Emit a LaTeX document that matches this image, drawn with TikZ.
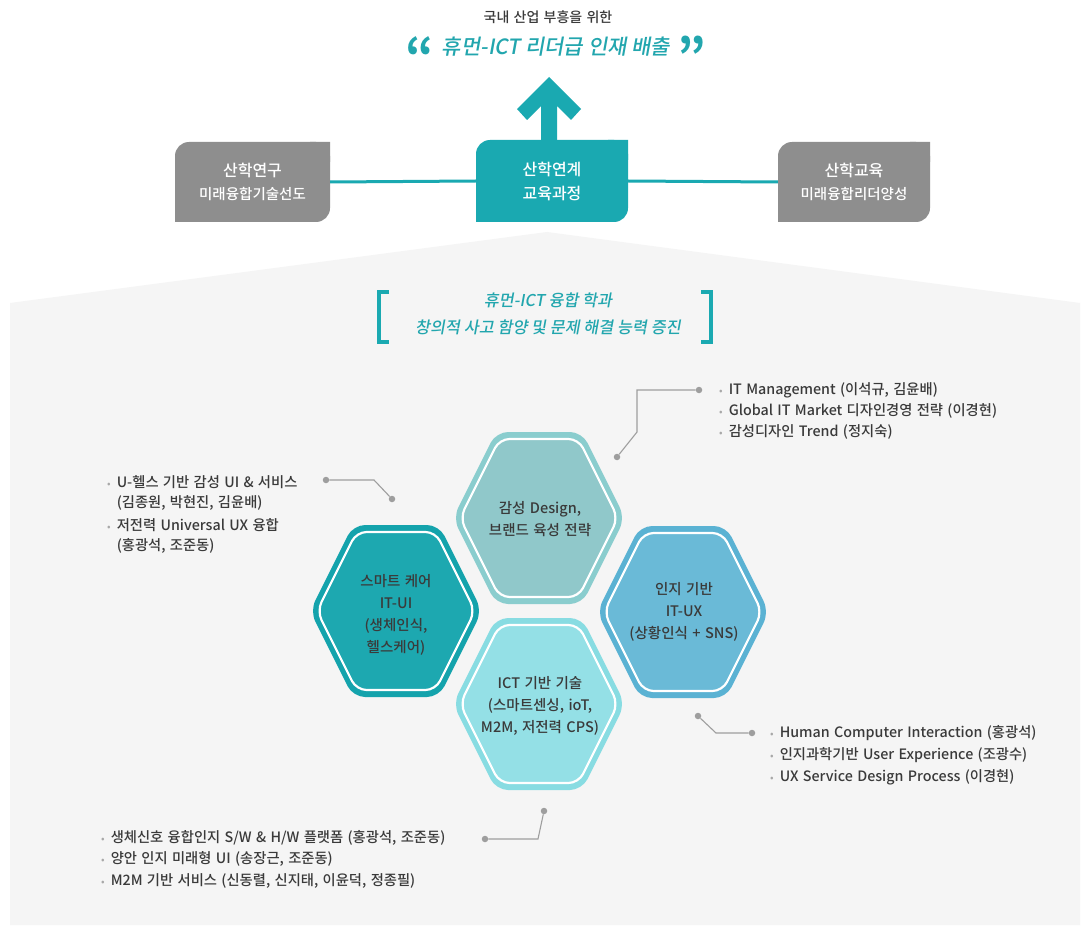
\documentclass[tikz,border=0pt]{standalone}
\usepackage{fontspec}
\setmainfont{Noto Sans CJK KR Medium}[WordSpace=1.35]
\newfontfamily\krbold{Noto Sans CJK KR Bold}
\newfontfamily\krit[FakeSlant=0.18]{Noto Sans CJK KR Medium}
\definecolor{teal1}{HTML}{1AA9B1}
\definecolor{tealtxt}{HTML}{22A6AE}
\definecolor{boxgray}{HTML}{8E8E8E}
\definecolor{bggray}{HTML}{F5F5F5}
\definecolor{txtgray}{HTML}{3A3A3A}
\definecolor{congray}{HTML}{9E9E9E}
\definecolor{bulgray}{HTML}{A8A8A8}
\definecolor{hAo}{HTML}{8ACDCE}\definecolor{hAi}{HTML}{90C8CA}
\definecolor{hBo}{HTML}{14A3AC}\definecolor{hBi}{HTML}{1DA8B0}
\definecolor{hCo}{HTML}{5AB2D3}\definecolor{hCi}{HTML}{6ABAD7}
\definecolor{hDo}{HTML}{88DCE2}\definecolor{hDi}{HTML}{94E0E6}
\newcommand\hexdraw[4]{\path[#4] ({#1},{#2-#3}) -- ({#1+#3/2},{#2-#3}) -- ({#1+#3},{#2}) -- ({#1+#3/2},{#2+#3}) -- ({#1-#3/2},{#2+#3}) -- ({#1-#3},{#2}) -- ({#1-#3/2},{#2-#3}) -- cycle;}
\newcommand\hexagonal[4]{%
  \hexdraw{#1}{#2}{86}{fill=#3, rounded corners=12pt}
  \hexdraw{#1}{#2}{79}{fill=#4, draw=white, line width=2.2pt, rounded corners=10pt}}
\newcommand\bul{\textcolor{bulgray}{\fontsize{10}{10}\selectfont•}\hspace{6pt}}
\newcommand\nobul{\phantom{\fontsize{10}{10}\selectfont•}\hspace{6pt}}
\begin{document}
\begin{tikzpicture}[x=1pt,y=-1pt,
  every node/.style={inner sep=0pt},
  boxtxt/.style={text=white, align=center, font=\fontsize{16}{24}\selectfont},
  hextxt/.style={text=txtgray, align=center, font=\fontsize{14.5}{22}\selectfont},
  listtxt/.style={text=txtgray, anchor=west, font=\fontsize{14.3}{15}\selectfont},
  con/.style={draw=congray, line width=1.1pt},
  dot/.style={circle, fill=congray, minimum size=6.5pt},
  brk/.style={draw=teal1, line width=3.5pt},
  link/.style={draw=teal1, line width=3pt}]
\useasboundingbox (0,0) rectangle (1087,928);
\fill[white] (0,0) rectangle (1087,928);
% background panel
\fill[bggray] (10,925) -- (10,303) -- (547,232) -- (1080,303) -- (1080,925) -- cycle;

% title
\node[text=txtgray, font=\fontsize{14}{15}\selectfont] (t1) at (548,17) {국내 산업 부흥을 위한};
\node[text=tealtxt, font=\krit\fontsize{21}{24}\selectfont] (t2) at (556,47) {휴먼-ICT 리더급 인재 배출};
\node[text=tealtxt, font=\krbold\fontsize{50}{50}\selectfont] (q1) at (420,56) {“};
\node[text=tealtxt, font=\krbold\fontsize{50}{50}\selectfont] (q2) at (692,56) {”};

% boxes
\fill[boxgray, rounded corners=14pt] (175,142) rectangle (330,222);
\fill[boxgray] (310,142) rectangle (330,162) (175,202) rectangle (195,222);
\fill[teal1, rounded corners=14pt] (476,140) rectangle (628,222);
\fill[teal1] (608,140) rectangle (628,160) (476,202) rectangle (496,222);
\fill[boxgray, rounded corners=14pt] (778,142) rectangle (930,222);
\fill[boxgray] (910,142) rectangle (930,162) (778,202) rectangle (798,222);
\node[boxtxt, minimum width=155pt, minimum height=80pt] (lbox) at (252.5,182) {산학연구\\[-1pt]\fontsize{14.5}{20}\selectfont 미래융합기술선도};
\node[boxtxt, minimum width=152pt, minimum height=82pt] (cbox) at (552,181) {산학연계\\교육과정};
\node[boxtxt, minimum width=152pt, minimum height=80pt] (rbox) at (854,182) {산학교육\\[-1pt]\fontsize{14.5}{20}\selectfont 미래융합리더양성};
\draw[link] (lbox.east) -- (cbox.west);
\draw[link] (cbox.east) -- (rbox.west);
% arrow
\fill[teal1] (549,77) -- (581,109) -- (571,120) -- (557,106) -- (557,141) -- (541,141) -- (541,106) -- (527,120) -- (517,109) -- cycle;

% bracket heading
\draw[brk] (389,292) -- (379,292) -- (379,342) -- (389,342);
\draw[brk] (701,292) -- (711,292) -- (711,342) -- (701,342);
\node[text=tealtxt, font=\krit\fontsize{16.3}{27}\selectfont, align=center] (sub) at (548,314) {휴먼-ICT 융합 학과\\창의적 사고 함양 및 문제 해결 능력 증진};

% hexagons
\hexagonal{539}{518}{hAo}{hAi}
\hexagonal{396}{611}{hBo}{hBi}
\hexagonal{683}{612}{hCo}{hCi}
\hexagonal{539}{704}{hDo}{hDi}
\node[hextxt] (hTop) at (540,519) {감성 Design,\\브랜드 육성 전략};
\node[hextxt] (hLeft) at (396,615) {스마트 케어\\IT-UI\\(생체인식,\\헬스케어)};
\node[hextxt] (hRight) at (684,612) {인지 기반\\IT-UX\\(상황인식 + SNS)};
\node[hextxt] (hBot) at (540,706) {ICT 기반 기술\\(스마트센싱, ioT,\\M2M, 저전력 CPS)};

% connectors
\node[dot] (d1a) at (617,457) {};
\node[dot] (d1b) at (699,390) {};
\coordinate (b1a) at (637,432);
\coordinate (b1b) at (637,390);
\draw[con] (d1a) -- (b1a) -- (b1b) -- (d1b);

\node[dot] (d2a) at (326,480) {};
\node[dot] (d2b) at (392,499) {};
\coordinate (b2) at (374,480);
\draw[con] (d2a) -- (b2) -- (d2b);

\node[dot] (d3a) at (698,716) {};
\node[dot] (d3b) at (752,733) {};
\coordinate (b3) at (716,733);
\draw[con] (d3a) -- (b3) -- (d3b);

\node[dot] (d4a) at (485,839) {};
\node[dot] (d4b) at (544,811) {};
\coordinate (b4) at (538,839);
\draw[con] (d4a) -- (b4) -- (d4b);

% lists
\node[listtxt] (l1a) at (719,390) {\bul IT Management (이석규, 김윤배)};
\node[listtxt] (l1b) at (719,411) {\bul Global IT Market 디자인경영 전략 (이경현)};
\node[listtxt] (l1c) at (719,432) {\bul 감성디자인 Trend (정지숙)};

\node[listtxt] (l2a) at (107,482) {\bul U-헬스 기반 감성 UI \& 서비스};
\node[listtxt] (l2b) at (107,503) {\nobul (김종원, 박현진, 김윤배)};
\node[listtxt] (l2c) at (107,525) {\bul 저전력 Universal UX 융합};
\node[listtxt] (l2d) at (107,546) {\nobul (홍광석, 조준동)};

\node[listtxt] (l3a) at (770,733) {\bul Human Computer Interaction (홍광석)};
\node[listtxt] (l3b) at (770,755) {\bul 인지과학기반 User Experience (조광수)};
\node[listtxt] (l3c) at (770,777) {\bul UX Service Design Process (이경현)};

\node[listtxt] (l4a) at (101,838) {\bul 생체신호 융합인지 S/W \& H/W 플랫폼 (홍광석, 조준동)};
\node[listtxt] (l4b) at (101,859) {\bul 양안 인지 미래형 UI (송장근, 조준동)};
\node[listtxt] (l4c) at (101,881) {\bul M2M 기반 서비스 (신동렬, 신지태, 이윤덕, 정종필)};
\end{tikzpicture}
\end{document}
